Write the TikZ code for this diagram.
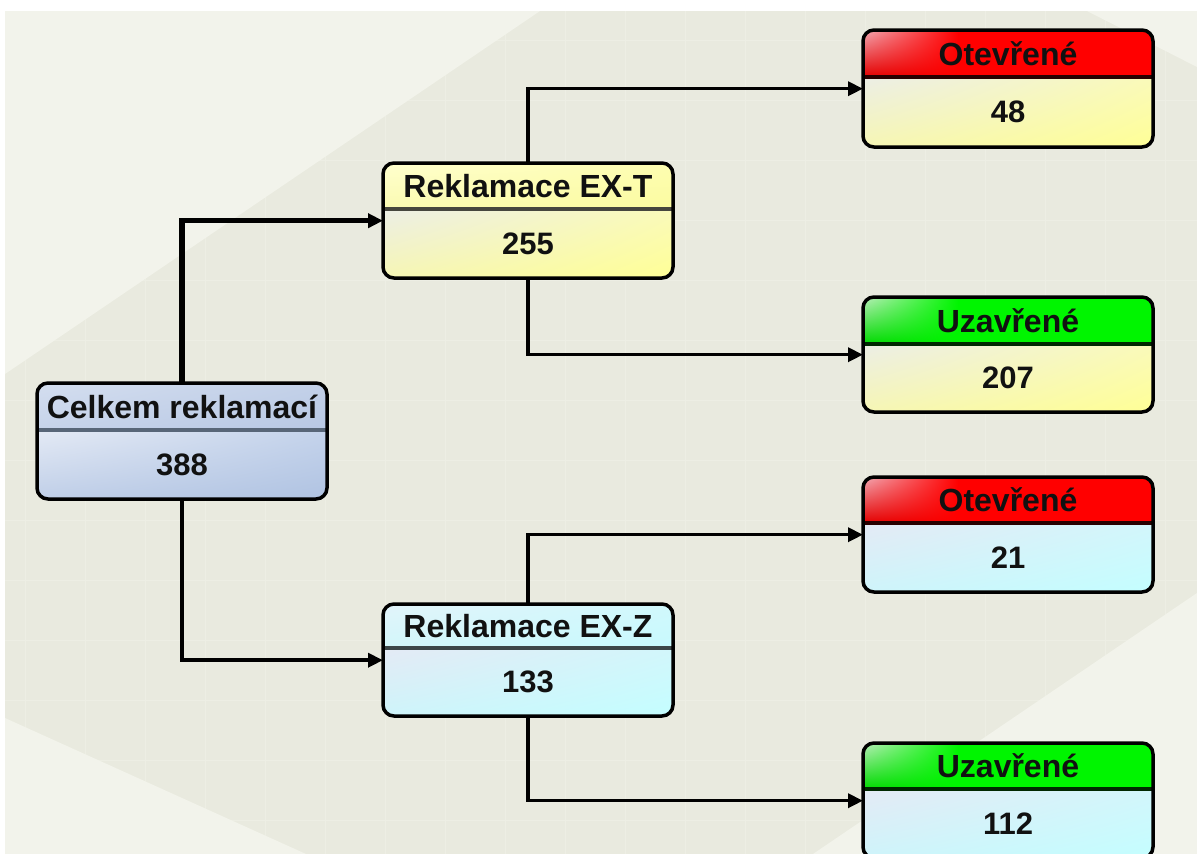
\documentclass[tikz,border=0pt]{standalone}
\usepackage{fontspec}
\setmainfont{Liberation Sans}
\usetikzlibrary{arrows.meta,shadings}

% palette
\definecolor{bgmain}{HTML}{E9EADF}
\definecolor{bglight}{HTML}{F2F3EB}
\definecolor{gridc}{HTML}{EDEEE4}
\definecolor{txt}{HTML}{111111}
\definecolor{hotred}{RGB}{255,0,0}
\definecolor{pinkred}{RGB}{242,170,180}
\definecolor{deepred}{RGB}{225,0,0}
\definecolor{hotgreen}{RGB}{0,245,0}
\definecolor{palegreen}{RGB}{186,238,186}
\definecolor{deepgreen}{RGB}{0,215,0}

\tikzset{
  cardnode/.style={rectangle, inner sep=0pt, minimum width=290pt, anchor=north west},
  cardframe/.style={draw=black, line width=3.5pt, rounded corners=11pt},
  cardtitle/.style={font=\fontsize{32}{36}\selectfont\bfseries, text=txt, inner sep=0pt},
  cardvalue/.style={font=\fontsize{31}{36}\selectfont\bfseries, text=txt, inner sep=0pt},
  link/.style={draw=black, line width=3.5pt, -{Triangle[length=15pt,width=14pt]}},
  % header, accent, body and rule looks per colour family
  blue head/.style={shade, upper left={rgb,255:red,212;green,222;blue,239}, upper right={rgb,255:red,194;green,208;blue,232},
                    lower left={rgb,255:red,198;green,211;blue,234}, lower right={rgb,255:red,184;green,200;blue,228}},
  blue body/.style={shade, upper left={rgb,255:red,228;green,234;blue,245}, upper right={rgb,255:red,196;green,211;blue,235},
                    lower left={rgb,255:red,192;green,207;blue,232}, lower right={rgb,255:red,176;green,195;blue,226}},
  blue rule/.style={draw={rgb,255:red,88;green,102;blue,120}, line width=3.5pt},
  yellow head/.style={shade, upper left={rgb,255:red,255;green,255;blue,206}, upper right={rgb,255:red,253;green,253;blue,176},
                      lower left={rgb,255:red,250;green,250;blue,178}, lower right={rgb,255:red,252;green,252;blue,160}},
  yellow body/.style={shade, upper left={rgb,255:red,236;green,238;blue,230}, upper right={rgb,255:red,250;green,250;blue,186},
                      lower left={rgb,255:red,246;green,246;blue,180}, lower right={rgb,255:red,255;green,255;blue,150}},
  yellow rule/.style={draw={rgb,255:red,70;green,70;blue,62}, line width=3.5pt},
  cyan head/.style={shade, upper left={rgb,255:red,226;green,244;blue,250}, upper right={rgb,255:red,208;green,248;blue,252},
                    lower left={rgb,255:red,210;green,246;blue,250}, lower right={rgb,255:red,200;green,250;blue,254}},
  cyan body/.style={shade, upper left={rgb,255:red,228;green,234;blue,245}, upper right={rgb,255:red,210;green,246;blue,251},
                    lower left={rgb,255:red,206;green,244;blue,250}, lower right={rgb,255:red,196;green,254;blue,255}},
  cyan rule/.style={draw={rgb,255:red,60;green,70;blue,72}, line width=3.5pt},
  red head/.style={fill=hotred},
  red accent/.style={shade, upper left=pinkred, upper right=hotred, lower left=deepred, lower right=hotred},
  red rule/.style={draw={rgb,255:red,40;green,0;blue,0}, line width=4pt},
  green head/.style={fill=hotgreen},
  green accent/.style={shade, upper left=palegreen, upper right=hotgreen, lower left=deepgreen, lower right=hotgreen},
  green rule/.style={draw={rgb,255:red,0;green,40;blue,0}, line width=4pt},
  blue accent/.style={}, yellow accent/.style={}, cyan accent/.style={},
}

% \card{name}{left}{top}{divider}{bottom}{head family}{body family}{title}{value}
\newcommand\card[9]{%
  \node[cardnode, minimum height={(#5-#3)*1pt}] (#1) at (#2,#3) {};
  \begin{scope}
    \clip[rounded corners=11pt] (#2,#3) rectangle ({#2+290},#5);
    \path[#6 head] (#2,#3) rectangle ({#2+290},#4);
    \path[#6 accent] (#2,#3) rectangle ({#2+95},#4);
    \path[#7 body] (#2,#4) rectangle ({#2+290},#5);
  \end{scope}
  \draw[#6 rule] (#2,#4) -- ({#2+290},#4);
  \draw[cardframe] (#2,#3) rectangle ({#2+290},#5);
  \node[cardtitle] (#1-title) at ({#2+145},{(#3+#4)/2}) {#8};
  \node[cardvalue] (#1-value) at ({#2+145},{(#4+#5)/2}) {#9};
}

\begin{document}
\begin{tikzpicture}[x=1pt,y=-1pt]
  \useasboundingbox (0,0) rectangle (1197,854);
  \fill[white] (0,0) rectangle (1197,854);

  % backdrop with a faint grid and lighter diagonal corners
  \fill[bgmain] (5,11) rectangle (1197,854);
  \foreach \gx in {25,85,...,1197} \draw[gridc, line width=1pt] (\gx,11) -- (\gx,854);
  \foreach \gy in {40,100,...,854} \draw[gridc, line width=1pt] (5,\gy) -- (1197,\gy);
  \fill[bglight] (5,11) -- (540,11) -- (5,374) -- cycle;
  \fill[bglight] (1087,11) -- (1197,11) -- (1197,67) -- cycle;
  \fill[bglight] (1197,593) -- (1197,854) -- (813,854) -- cycle;
  \fill[bglight] (5,718) -- (306,854) -- (5,854) -- cycle;

  % cards
  \card{root}{37}{383}{430}{499}{blue}{blue}{Celkem reklamací}{388}
  \card{ext}{383}{163}{209}{278}{yellow}{yellow}{Reklamace EX-T}{255}
  \card{exz}{383}{604}{648}{716}{cyan}{cyan}{Reklamace EX-Z}{133}
  \card{o1}{863}{30}{77}{147}{red}{yellow}{Otevřené}{48}
  \card{u1}{863}{297}{344}{412}{green}{yellow}{Uzavřené}{207}
  \card{o2}{863}{477}{523}{592}{red}{cyan}{Otevřené}{21}
  \card{u2}{863}{743}{789}{858}{green}{cyan}{Uzavřené}{112}

  % connectors
  \draw[link, line width=5.5pt] (root.north) |- (ext.west);
  \draw[link] (root.south) |- (exz.west);
  \draw[link] (ext.north) |- (o1.west);
  \draw[link] (ext.south) |- (u1.west);
  \draw[link] (exz.north) |- (o2.west);
  \draw[link] (exz.south) |- (u2.west);
\end{tikzpicture}
\end{document}
